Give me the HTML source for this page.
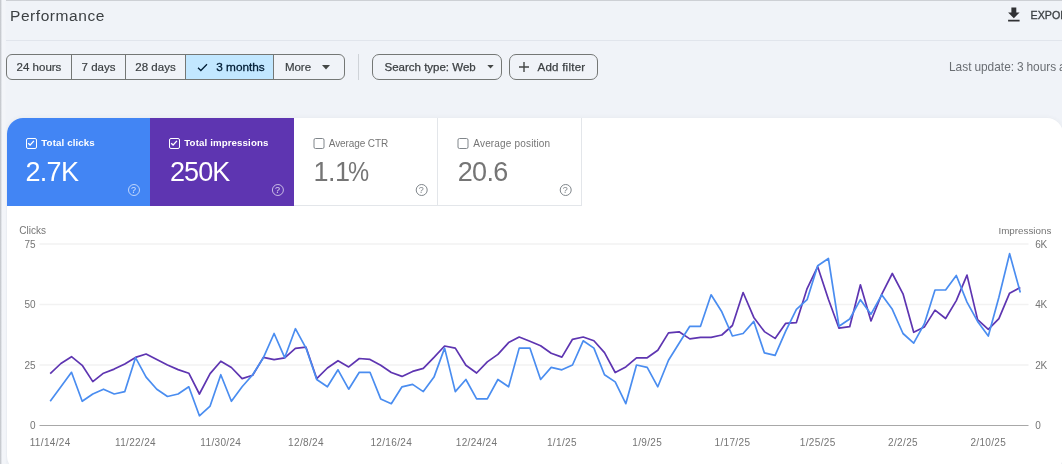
<!DOCTYPE html>
<html><head><meta charset="utf-8"><title>Performance</title>
<style>
*{box-sizing:border-box;margin:0;padding:0}
html,body{width:1062px;height:464px;overflow:hidden;background:#f0f3f8}
body{position:relative;font-family:"Liberation Sans",sans-serif;color:#444746}
.abs{position:absolute}
.frame-t{left:0;top:0;width:1062px;height:1px;background:#cdd0d5}
.frame-l{left:0;top:0;width:6px;height:464px;background:linear-gradient(to right,#c6c9ce 0,#c9ccd1 1px,#e6e9ee 1.6px,#f3f5f9 2.5px,#f3f5f9 5px,#f0f3f8 6px)}
.title{left:10px;top:6px;font-size:15.5px;letter-spacing:.56px;line-height:20px;color:#3c4043;white-space:nowrap}
.hr{left:0;top:40px;width:1062px;height:1px;background:#e1e5ec}
.export{left:1030.6px;top:8.4px;font-size:10.7px;line-height:14px;color:#3c4043;-webkit-text-stroke:.3px #3c4043;letter-spacing:0;white-space:nowrap}
.seg{left:6px;top:54px;height:26px;width:339px;border:1px solid #747775;border-radius:6px;display:flex;overflow:hidden;font-size:11.5px;color:#3c4043;-webkit-text-stroke:.2px #3c4043}
.seg div{height:100%;display:flex;align-items:center;justify-content:center;border-right:1px solid #747775;white-space:nowrap}
.seg div:last-child{border-right:0}
.seg .sel{background:#c2e7ff;color:#001d35;-webkit-text-stroke:.3px #001d35;font-size:11.8px}
.vsep{left:358px;top:54px;width:1px;height:26px;background:#cfd3d8}
.chip{top:54px;height:26px;border:1px solid #747775;border-radius:7px;font-size:11.5px;color:#3c4043;-webkit-text-stroke:.25px #3c4043;display:flex;align-items:center;white-space:nowrap}
.last{left:949px;top:60px;font-size:11.9px;word-spacing:-.4px;line-height:14px;color:#6a6e73;white-space:nowrap}
.card{left:7px;top:118px;width:1056px;height:354px;background:#fff;border-radius:16px;box-shadow:0 0 5px rgba(60,64,67,.06)}
.tile{top:118px;height:88px;width:144px}
.t1{left:7px;background:#4285f4;border-top-left-radius:16px;width:143px}
.t2{left:150px;background:#5e35b1}
.t3{left:294px;border-right:1px solid #e3e6ea;border-bottom:1px solid #e3e6ea}
.t4{left:438px;border-right:1px solid #e3e6ea;border-bottom:1px solid #e3e6ea}
.tile .cb{position:absolute;left:18.6px;top:20px;width:11px;height:11px;border:1.5px solid #fff;border-radius:2px}
.t3 .cb,.t4 .cb{border-color:#80868b;border-width:1px}
.tile .lb{position:absolute;left:34.3px;top:19.3px;letter-spacing:.12px;font-size:9.7px;line-height:12px;color:#fff;font-weight:bold;white-space:nowrap}
.t3 .lb,.t4 .lb{color:#757575;font-weight:normal;font-size:10px;top:20px}
.t3 .lb{letter-spacing:-.1px;left:34.8px}.t4 .lb{letter-spacing:.17px;left:35.3px}
.tile .val{position:absolute;left:19px;top:38px;font-size:27px;line-height:32px;color:#fff;white-space:nowrap;letter-spacing:-.5px}
.t3 .val,.t4 .val{color:#757575}
.t1 .val{left:18.5px;letter-spacing:-.7px}.t2 .val{left:20px;letter-spacing:-.9px}
.tile .q{position:absolute;left:120.6px;top:65.6px;width:12px;height:12px;border:1.3px solid rgba(255,255,255,.65);border-radius:50%;font-size:9px;line-height:10px;text-align:center;color:rgba(255,255,255,.8)}
.t3 .q,.t4 .q{border-color:#80868b;color:#80868b}
svg text{font-family:"Liberation Sans",sans-serif;font-size:10px;fill:#757575}
svg .xl text{letter-spacing:.35px}
.t2 .q{transform:translateX(.9px)}.t3 .q,.t4 .q{transform:translateX(.7px)}.t3 .cb,.t4 .cb{transform:translateX(.5px)}.t3 .val{left:19.6px}.t4 .val{left:19.8px;letter-spacing:-.7px}
</style></head><body>
<div class="abs title">Performance</div>
<svg class="abs" style="left:1004.3px;top:4.6px" width="19.7" height="19.7" viewBox="0 0 24 24"><path fill="#303134" d="M19 9h-4V3H9v6H5l7 7 7-7zM5 18v2h14v-2H5z"/></svg>
<div class="abs export">EXPORT</div>
<div class="abs hr"></div>
<div class="abs seg">
 <div style="width:65px">24 hours</div><div style="width:54px">7 days</div><div style="width:60px">28 days</div>
 <div class="sel" style="width:88px;padding-left:3px"><svg width="11" height="9" viewBox="0 0 12 10" style="margin-right:8px"><path d="M1 5.2 4.2 8.4 11 1.4" fill="none" stroke="#001d35" stroke-width="1.4"/></svg>3 months</div>
 <div style="width:70px">More<svg width="8" height="5" viewBox="0 0 8 5" style="margin-left:11px;margin-right:3px"><path d="M0 0h8L4 4.5z" fill="#444746"/></svg></div>
</div>
<div class="abs vsep"></div>
<div class="abs chip" style="left:371.5px;width:130.5px;padding-left:12px">Search type: Web<svg width="7" height="4" viewBox="0 0 8 5" style="margin-left:11px"><path d="M0 0h8L4 4.5z" fill="#444746"/></svg></div>
<div class="abs chip" style="left:509px;width:89px;padding-left:8.5px;letter-spacing:.25px"><svg width="10" height="10" viewBox="0 0 10 10" style="margin-right:9px"><path d="M5 0v10M0 5h10" stroke="#444746" stroke-width="1.4"/></svg>Add filter</div>
<div class="abs last">Last update: 3 hours ago</div>
<div class="abs card"></div>
<div class="abs tile t1"><div class="cb"><svg width="8" height="8" viewBox="0 0 8 8" style="position:absolute;left:0;top:0"><path d="M1.2 4.2 3.1 6.1 6.9 1.9" fill="none" stroke="#fff" stroke-width="1.4"/></svg></div><div class="lb">Total clicks</div><div class="val">2.7K</div><div class="q">?</div></div>
<div class="abs tile t2"><div class="cb"><svg width="8" height="8" viewBox="0 0 8 8" style="position:absolute;left:0;top:0"><path d="M1.2 4.2 3.1 6.1 6.9 1.9" fill="none" stroke="#fff" stroke-width="1.4"/></svg></div><div class="lb">Total impressions</div><div class="val">250K</div><div class="q">?</div></div>
<div class="abs tile t3"><div class="cb"></div><div class="lb">Average CTR</div><div class="val">1.1<span style="display:inline-block;transform:scaleX(.88);transform-origin:0 50%;margin-left:-1.5px">%</span></div><div class="q">?</div></div>
<div class="abs tile t4"><div class="cb"></div><div class="lb">Average position</div><div class="val">20.6</div><div class="q">?</div></div>
<svg class="abs" style="left:0;top:0" width="1062" height="464" viewBox="0 0 1062 464">
 <g stroke="#f2f2f2" stroke-width="1.4"><path d="M39.5 244H1028.5M39.5 304.5H1028.5M39.5 365H1028.5"/></g>
 <path d="M39.5 425.5H1028.5" stroke="#a8a8a8" stroke-width="1.2"/>
 <text x="19.3" y="234.2">Clicks</text>
 <text x="35.6" y="247.5" text-anchor="end">75</text><text x="35.6" y="308" text-anchor="end">50</text><text x="35.6" y="368.5" text-anchor="end">25</text><text x="35.6" y="429" text-anchor="end">0</text>
 <text x="1051.3" y="234.4" text-anchor="end" style="font-size:9.8px">Impressions</text>
 <g style="font-size:9.6px;letter-spacing:-.3px"><text x="1035.2" y="247.5">6K</text><text x="1035.2" y="308">4K</text><text x="1035.2" y="368.5">2K</text><text x="1035.2" y="429.2">0</text></g>
 <g class="xl"><text x="50.2" y="445.5" text-anchor="middle">11/14/24</text><text x="135.5" y="445.5" text-anchor="middle">11/22/24</text><text x="220.8" y="445.5" text-anchor="middle">11/30/24</text><text x="306.0" y="445.5" text-anchor="middle">12/8/24</text><text x="391.3" y="445.5" text-anchor="middle">12/16/24</text><text x="476.6" y="445.5" text-anchor="middle">12/24/24</text><text x="561.9" y="445.5" text-anchor="middle">1/1/25</text><text x="647.2" y="445.5" text-anchor="middle">1/9/25</text><text x="732.4" y="445.5" text-anchor="middle">1/17/25</text><text x="817.7" y="445.5" text-anchor="middle">1/25/25</text><text x="903.0" y="445.5" text-anchor="middle">2/2/25</text><text x="988.3" y="445.5" text-anchor="middle">2/10/25</text></g>
 <polyline points="50.2,373.6 60.9,363.5 71.5,356.7 82.2,365.3 92.8,381.6 103.5,373.2 114.2,369.1 124.8,363.9 135.5,357.4 146.1,354.0 156.8,359.6 167.5,365.0 178.1,369.6 188.8,373.2 199.4,394.0 210.1,373.6 220.8,361.2 231.4,367.5 242.1,378.6 252.7,375.2 263.4,357.4 274.1,359.6 284.7,357.8 295.4,348.3 306.0,347.2 316.7,378.6 327.4,368.0 338.0,360.7 348.7,366.9 359.3,358.5 370.0,359.4 380.7,365.3 391.3,372.5 402.0,376.4 412.6,371.4 423.3,368.4 434.0,357.4 444.6,346.0 455.3,348.1 465.9,365.3 476.6,373.0 487.3,361.9 497.9,354.4 508.6,342.6 519.2,337.0 529.9,341.3 540.6,345.8 551.2,353.3 561.9,357.1 572.5,339.3 583.2,337.0 593.9,340.8 604.5,352.6 615.2,372.5 625.8,366.9 636.5,357.8 647.2,357.8 657.8,350.3 668.5,332.9 679.1,331.8 689.8,338.9 700.5,337.3 711.1,337.3 721.8,335.0 732.4,325.5 743.1,292.5 753.8,317.4 764.4,331.6 775.1,338.4 785.7,323.3 796.4,322.6 807.1,288.6 817.7,266.7 828.4,299.3 839.0,328.2 849.7,326.7 860.4,284.8 871.0,321.0 881.7,294.3 892.3,273.5 903.0,293.8 913.7,332.3 924.3,327.1 935.0,310.1 945.6,318.5 956.3,300.6 967.0,275.1 977.6,319.6 988.3,329.4 998.9,318.7 1009.6,293.2 1020.3,287.5" fill="none" stroke="#5e35b1" stroke-width="1.7" stroke-linejoin="round"/>
 <polyline points="50.2,401.3 60.9,386.8 71.5,372.3 82.2,401.3 92.8,394.0 103.5,389.2 114.2,394.0 124.8,391.6 135.5,357.7 146.1,377.1 156.8,389.2 167.5,396.5 178.1,394.0 188.8,386.8 199.4,415.8 210.1,406.1 220.8,374.7 231.4,401.3 242.1,386.8 252.7,374.7 263.4,357.7 274.1,333.5 284.7,357.7 295.4,328.7 306.0,348.1 316.7,379.5 327.4,386.8 338.0,369.8 348.7,389.2 359.3,372.3 370.0,372.3 380.7,398.9 391.3,403.7 402.0,386.8 412.6,384.4 423.3,391.6 434.0,377.1 444.6,348.1 455.3,391.6 465.9,379.5 476.6,398.9 487.3,398.9 497.9,379.5 508.6,386.8 519.2,348.1 529.9,348.1 540.6,379.5 551.2,367.4 561.9,369.8 572.5,365.0 583.2,340.8 593.9,348.1 604.5,374.7 615.2,381.9 625.8,403.7 636.5,365.0 647.2,367.4 657.8,386.8 668.5,360.2 679.1,343.2 689.8,326.3 700.5,326.3 711.1,294.8 721.8,311.8 732.4,336.0 743.1,333.5 753.8,321.4 764.4,352.9 775.1,355.3 785.7,331.1 796.4,309.3 807.1,299.7 817.7,265.8 828.4,258.5 839.0,326.3 849.7,319.0 860.4,299.7 871.0,314.2 881.7,294.8 892.3,309.3 903.0,333.5 913.7,343.2 924.3,323.9 935.0,290.0 945.6,290.0 956.3,275.5 967.0,302.1 977.6,321.4 988.3,336.0 998.9,297.2 1009.6,253.7 1020.3,292.4" fill="none" stroke="#4a8df0" stroke-width="1.7" stroke-linejoin="round"/>
</svg>
<div class="abs frame-t"></div><div class="abs frame-l"></div>
</body></html>
